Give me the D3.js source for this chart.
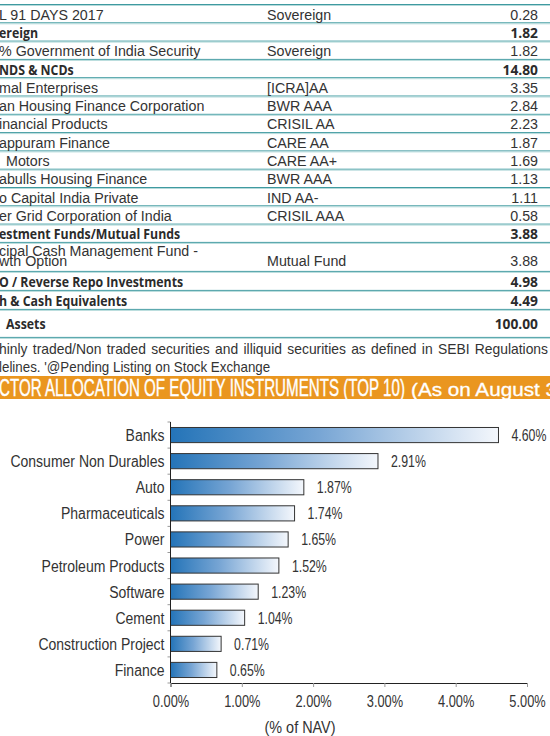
<!DOCTYPE html>
<html>
<head>
<meta charset="utf-8">
<script src="https://cdn.jsdelivr.net/npm/d3@7"></script>
<style>
  body { margin: 0; background: #fff; overflow: hidden; }
  svg { display: block; }
  text { font-family: "Liberation Sans", Arial, sans-serif; fill: #333; }
  .bold { font-family: "Open Sans", "Liberation Sans", sans-serif; font-weight: 700; fill: #2b2b2b; }
</style>
</head>
<body>
<script>
// holdings table (left part of the page is cut off in the source)
const names = ['L 91 DAYS 2017', 'ereign', '% Government of India Security', 'NDS & NCDs',
  'mal Enterprises', 'an Housing Finance Corporation', 'inancial Products', 'appuram Finance',
  ' Motors', 'abulls Housing Finance', 'o Capital India Private', 'er Grid Corporation of India',
  'estment Funds/Mutual Funds', 'cipal Cash Management Fund -|wth Option',
  'O / Reverse Repo Investments', 'h & Cash Equivalents', ' Assets'];
const ratings = ['Sovereign', '', 'Sovereign', '', '[ICRA]AA', 'BWR AAA', 'CRISIL AA', 'CARE AA',
  'CARE AA+', 'BWR AAA', 'IND AA-', 'CRISIL AAA', '', 'Mutual Fund', '', '', ''];
const weights = ['0.28', '1.82', '1.82', '14.80', '3.35', '2.84', '2.23', '1.87', '1.69', '1.13',
  '1.11', '0.58', '3.88', '3.88', '4.98', '4.49', '100.00'];
const boldRows = [1, 3, 12, 14, 15, 16];

const notes = ['hinly traded/Non traded securities and illiquid securities as defined in SEBI Regulations',
  'lelines. \'@Pending Listing on Stock Exchange'];

// sector chart
const sectors = ['Banks', 'Consumer Non Durables', 'Auto', 'Pharmaceuticals', 'Power',
  'Petroleum Products', 'Software', 'Cement', 'Construction Project', 'Finance'];
const navPct = [4.60, 2.91, 1.87, 1.74, 1.65, 1.52, 1.23, 1.04, 0.71, 0.65];
const xTicks = [0, 1, 2, 3, 4, 5];

const width = 550, height = 736;

// the source uses a condensed face, so squeeze the text a little
function squeeze(sel, f) {
  sel.each(function () {
    let w = this.getComputedTextLength();
    d3.select(this).attr('textLength', w * f).attr('lengthAdjust', 'spacingAndGlyphs');
  });
}

const svg = d3.select('body').append('svg')
  .attr('width', width)
  .attr('height', height);

// ---- table ----
let rowTop = [5];
names.forEach((n, i) => {
  let h = 18.3;
  if (n.indexOf('|') >= 0) h = 29;
  else if (i === names.length - 1) h = 28;
  else if (i > 13) h = 19;
  rowTop.push(rowTop[i] + h);
});

const table = svg.append('g').attr('id', 'table');

rowTop.forEach(y => {
  table.append('line').attr('x1', 0).attr('x2', width).attr('y1', y - 0.5).attr('y2', y - 0.5)
    .attr('stroke', '#3f9aa0').attr('stroke-width', 1);
  table.append('line').attr('x1', 0).attr('x2', width).attr('y1', y + 0.5).attr('y2', y + 0.5)
    .attr('stroke', '#b5dadb').attr('stroke-width', 1);
});

names.forEach((n, i) => {
  let isBold = boldRows.indexOf(i) >= 0;
  let top = rowTop[i], h = rowTop[i + 1] - rowTop[i];
  let base = top + h / 2 + 5.5;
  let lead = n.charAt(0) === ' ' ? 6 : -1;
  let t = table.append('text')
    .attr('class', isBold ? 'bold' : null)
    .attr('x', lead)
    .attr('font-size', isBold ? 14.5 : 15.5);
  if (n.indexOf('|') >= 0) {
    let parts = n.split('|');
    t.append('tspan').attr('x', lead).attr('y', top + 13).text(parts[0]);
    t.append('tspan').attr('x', lead).attr('y', top + 23).text(parts[1]);
    squeeze(t.selectAll('tspan'), 0.92);
  } else {
    t.attr('y', base).text(n.trim());
    squeeze(t, isBold ? 0.85 : 0.92);
  }
  let vy = n.indexOf('|') >= 0 ? top + 23 : base;
  if (ratings[i] !== '') {
    let r = table.append('text')
      .attr('x', 267).attr('y', vy)
      .attr('font-size', 15.5).text(ratings[i]);
    squeeze(r, 0.92);
  }
  let v = table.append('text').attr('class', isBold ? 'bold' : null)
    .attr('x', 538).attr('y', vy)
    .attr('text-anchor', 'end')
    .attr('font-size', isBold ? 14.5 : 15.5).text(weights[i]);
  squeeze(v, isBold ? 0.95 : 0.92);
});

// footnote: first line is justified to the column
notes.forEach((s, i) => {
  let t = svg.append('text')
    .attr('x', -1).attr('y', 354 + i * 18)
    .attr('font-size', 14.5).text(s);
  if (i === 0) {
    t.attr('word-spacing', 1.5);
    t.attr('textLength', 549).attr('lengthAdjust', 'spacingAndGlyphs');
  } else {
    squeeze(t, 0.92);
  }
});

// ---- orange header ----
svg.append('rect').attr('x', 0).attr('y', 376).attr('width', width).attr('height', 23)
  .attr('fill', '#ea961f');
svg.append('text')
  .attr('x', -1).attr('y', 396)
  .style('fill', '#fff')
  .attr('stroke', '#fff').attr('stroke-width', 0.4)
  .attr('font-size', 24)
  .attr('textLength', 406).attr('lengthAdjust', 'spacingAndGlyphs')
  .text('CTOR ALLOCATION OF EQUITY INSTRUMENTS (TOP 10)');
svg.append('text')
  .attr('x', 411).attr('y', 396)
  .style('fill', '#fff')
  .attr('stroke', '#fff').attr('stroke-width', 0.3)
  .attr('font-size', 18)
  .attr('textLength', 146).attr('lengthAdjust', 'spacingAndGlyphs')
  .text('(As on August 3');

// ---- bar chart ----
const margin = { top: 422, left: 170.5, right: 23 };
const plotBottom = 683;

const xScale = d3.scaleLinear().domain([0, 5]).range([margin.left, width - margin.right]);
const yScale = d3.scaleBand().domain(sectors).range([margin.top, plotBottom]).paddingInner(0.42).paddingOuter(0.21);

const grad = svg.append('defs').append('linearGradient')
  .attr('id', 'barGrad').attr('x1', '0%').attr('x2', '100%');
grad.append('stop').attr('offset', '0%').attr('stop-color', '#2474b8');
grad.append('stop').attr('offset', '45%').attr('stop-color', '#77a5d4');
grad.append('stop').attr('offset', '100%').attr('stop-color', '#f4f7fc');

const chart = svg.append('g').attr('id', 'chart');

chart.selectAll('rect.bar')
  .data(navPct)
  .enter()
  .append('rect')
  .attr('class', 'bar')
  .attr('x', xScale(0))
  .attr('y', (d, i) => yScale(sectors[i]))
  .attr('width', d => xScale(d) - xScale(0))
  .attr('height', yScale.bandwidth())
  .attr('fill', 'url(#barGrad)')
  .attr('stroke', '#333')
  .attr('stroke-width', 1);

let vals = chart.selectAll('text.val')
  .data(navPct)
  .enter()
  .append('text')
  .attr('class', 'val')
  .attr('x', d => xScale(d) + 13)
  .attr('y', (d, i) => yScale(sectors[i]) + yScale.bandwidth() / 2 + 6)
  .attr('font-size', 16)
  .text(d => d.toFixed(2) + '%');
squeeze(vals, 0.77);

// y axis: labels, ticks at the band edges
const yAxis = chart.append('g').attr('class', 'axis');
let ylabels = yAxis.selectAll('text')
  .data(sectors)
  .enter()
  .append('text')
  .attr('x', margin.left - 6)
  .attr('y', d => yScale(d) + yScale.bandwidth() / 2 + 6)
  .attr('text-anchor', 'end')
  .attr('font-size', 16)
  .text(d => d);
squeeze(ylabels, 0.875);
const step = yScale.step();
yAxis.selectAll('line.tick')
  .data(d3.range(sectors.length + 1))
  .enter()
  .append('line')
  .attr('class', 'tick')
  .attr('x1', margin.left - 3).attr('x2', margin.left)
  .attr('y1', i => margin.top + i * step)
  .attr('y2', i => margin.top + i * step)
  .attr('stroke', '#999');
yAxis.append('line')
  .attr('x1', margin.left).attr('x2', margin.left)
  .attr('y1', margin.top).attr('y2', plotBottom)
  .attr('stroke', '#222').attr('stroke-width', 1);

// x axis
const xAxis = chart.append('g')
  .attr('transform', 'translate(0,' + plotBottom + ')')
  .call(d3.axisBottom(xScale).tickValues(xTicks).tickSize(4).tickPadding(9)
    .tickFormat(d => d.toFixed(2) + '%'));
xAxis.select('.domain').attr('stroke', '#222');
xAxis.selectAll('.tick line').attr('stroke', '#999');
let ticks = xAxis.selectAll('.tick text')
  .attr('font-family', '"Liberation Sans", Arial, sans-serif')
  .attr('font-size', 16)
  .style('fill', '#333');
squeeze(ticks, 0.8);

let navLabel = chart.append('text')
  .attr('x', 300).attr('y', 733)
  .attr('text-anchor', 'middle')
  .attr('font-size', 16)
  .text('(% of NAV)');
squeeze(navLabel, 0.9);
</script>
</body>
</html>
